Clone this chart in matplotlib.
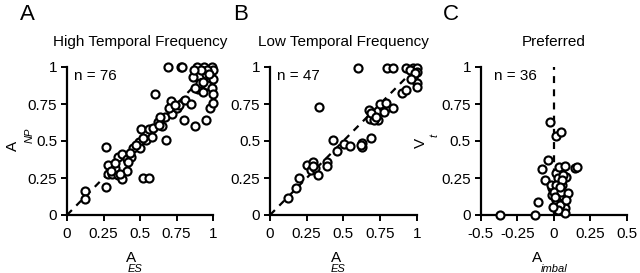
import matplotlib
matplotlib.use("Agg")
import matplotlib.pyplot as plt

plt.rcParams['font.family'] = ['Liberation Sans', 'DejaVu Sans']
plt.rcParams['lines.scale_dashes'] = False

# ---- data ----
a_es = [0.12, 0.12, 0.27, 0.27, 0.28, 0.28, 0.31, 0.33, 0.35, 0.35, 0.38, 0.41, 0.38, 0.41, 0.44,
        0.45, 0.43, 0.49, 0.50, 0.51, 0.52, 0.56, 0.54, 0.56, 0.59, 0.60, 0.62, 0.65, 0.68, 0.67,
        0.69, 0.71, 0.72, 0.72, 0.75, 0.77, 0.78, 0.79, 0.80, 0.81, 0.85, 0.86, 0.88, 0.89, 0.90,
        0.91, 0.93, 0.94, 0.95, 0.95, 0.97, 0.96, 0.98, 0.99, 1.00, 1.00, 0.99, 1.00, 1.00, 0.96,
        0.92, 0.87, 0.88, 0.93, 0.97, 0.47, 0.52, 0.64, 0.70, 0.74, 0.33, 0.30, 0.36, 0.42, 0.63,
        0.58]
a_np = [0.16, 0.11, 0.19, 0.46, 0.34, 0.28, 0.28, 0.32, 0.27, 0.39, 0.24, 0.30, 0.41, 0.38, 0.39,
        0.45, 0.42, 0.49, 0.45, 0.58, 0.25, 0.25, 0.51, 0.58, 0.59, 0.82, 0.63, 0.60, 0.51, 0.66,
        1.00, 0.77, 0.71, 0.68, 0.72, 0.74, 1.00, 1.00, 0.64, 0.78, 0.75, 0.93, 0.60, 1.00, 0.85,
        0.89, 0.83, 1.00, 0.64, 0.95, 0.90, 0.88, 0.72, 1.00, 0.98, 0.92, 0.86, 0.82, 0.76, 0.98,
        0.98, 0.98, 0.86, 0.90, 0.95, 0.47, 0.52, 0.66, 0.72, 0.74, 0.35, 0.30, 0.28, 0.36, 0.61,
        0.53]

b_es = [0.125, 0.177, 0.20, 0.255, 0.295, 0.277, 0.307, 0.325, 0.332, 0.386, 0.386, 0.427, 0.455,
        0.505, 0.545, 0.602, 0.625, 0.625, 0.686, 0.677, 0.682, 0.739, 0.768, 0.791, 0.777, 0.841,
        0.795, 0.841, 0.898, 0.927, 0.925, 0.977, 1.00, 1.00, 0.977, 1.00, 1.00, 0.955, 0.99, 0.711,
        0.62, 0.69, 0.75, 0.79, 0.96, 0.29, 0.72]
b_np = [0.117, 0.18, 0.248, 0.338, 0.36, 0.304, 0.315, 0.27, 0.727, 0.36, 0.331, 0.507, 0.435,
        0.48, 0.466, 0.995, 0.462, 0.484, 0.518, 0.709, 0.649, 0.642, 0.732, 0.721, 0.694, 0.721,
        0.995, 0.995, 0.822, 0.845, 0.995, 0.995, 0.995, 0.968, 0.923, 0.89, 0.863, 0.98, 0.957, 0.642,
        0.47, 0.69, 0.75, 0.76, 0.92, 0.33, 0.66]

c_imbal = [-0.37, -0.13, -0.107, -0.023, 0.014, 0.052, -0.039, -0.084, -0.061, -0.016, -0.016, -0.02,
           0.018, 0.036, 0.03, 0.014, 0.0, 0.018, 0.048, 0.059, 0.075, 0.086, 0.098, 0.064, 0.075,
           0.075, 0.045, 0.143, 0.155, 0.007, 0.03, 0.064, -0.009, 0.059, 0.086, 0.041]
c_vt = [0.0, 0.0, 0.086, 0.626, 0.534, 0.563, 0.372, 0.311, 0.236, 0.135, 0.18, 0.2,
        0.282, 0.322, 0.248, 0.2, 0.158, 0.101, 0.158, 0.2, 0.331, 0.259, 0.146, 0.079, 0.045,
        0.011, 0.068, 0.315, 0.327, 0.124, 0.034, 0.27, 0.056, 0.236, 0.101, 0.19]

titles = ["High Temporal Frequency", "Low Temporal Frequency", "Preferred"]
panel_letters = ["A", "B", "C"]
n_labels = ["n = 76", "n = 47", "n = 36"]
yticks = [0, 0.25, 0.5, 0.75, 1]
ytick_labels = ["0", "0.25", "0.5", "0.75", "1"]
xticks_ab = [0, 0.25, 0.5, 0.75, 1]
xtick_labels_ab = ["0", "0.25", "0.5", "0.75", "1"]
xticks_c = [-0.5, -0.25, 0, 0.25, 0.5]
xtick_labels_c = ["-0.5", "-0.25", "0", "0.25", "0.5"]

W, H = 640, 273
fig = plt.figure(figsize=(6.4, 2.73), dpi=100)

def px_axes(x0, x1, ytop, ybot):
    return fig.add_axes([x0 / W, 1 - ybot / H, (x1 - x0) / W, (ybot - ytop) / H])

axA = px_axes(67, 213, 67, 215)
axB = px_axes(270, 416.7, 67, 215)
axC = px_axes(480.7, 627, 67, 215)

FS = 11
lw = 1.6

def style(ax, xlim, xticks, xticklabels):
    ax.set_xlim(*xlim)
    ax.set_ylim(0, 1)
    for s in ['top', 'right']:
        ax.spines[s].set_visible(False)
    for s in ['left', 'bottom']:
        ax.spines[s].set_linewidth(lw)
    ax.set_xticks(xticks)
    ax.set_xticklabels(xticklabels)
    ax.set_yticks(yticks)
    ax.set_yticklabels(ytick_labels)
    ax.tick_params(direction='out', length=4, width=1.4, labelsize=FS)
    ax.tick_params(axis='x', pad=5)
    ax.tick_params(axis='y', pad=3)
    ax.patch.set_visible(False)

mk = dict(marker='o', ls='none', ms=5.8, mew=1.55, mec='black', mfc='white', clip_on=False, zorder=3)
dash = dict(color='black', lw=1.6, dashes=(5, 4.5), zorder=2, clip_on=False)

for ax, xs, ys, ttl, nl in [(axA, a_es, a_np, titles[0], n_labels[0]),
                            (axB, b_es, b_np, titles[1], n_labels[1])]:
    style(ax, (0, 1), xticks_ab, xtick_labels_ab)
    ax.plot([0, 1], [0, 1], **dash)
    ax.plot(xs, ys, **mk)
    ax.set_title(ttl, fontsize=FS, pad=15)
    ax.text(0.05, 0.985, nl, transform=ax.transAxes, ha='left', va='top', fontsize=FS)

style(axC, (-0.5, 0.5), xticks_c, xtick_labels_c)
axC.plot([0, 0], [0, 1], **dash)
axC.plot(c_imbal, c_vt, **mk)
axC.set_title(titles[2], fontsize=FS, pad=15)
axC.text(0.09, 0.985, n_labels[2], transform=axC.transAxes, ha='left', va='top', fontsize=FS)

# panel letters
for x, letter in [(20, "A"), (233, "B"), (443, "C")]:
    fig.text(x / W, 1 - 20 / H, letter, fontsize=16, ha='left', va='baseline')

# axis labels (main letter + offset subscripts)
def ftxt(x, y, s, **kw):
    fig.text(x / W, 1 - y / H, s, **kw)

ftxt(131.5, 262, "A", fontsize=FS, ha='center', va='baseline')
ftxt(135.5, 272, "ES", fontsize=8, style='italic', ha='center', va='baseline')
ftxt(336, 262, "A", fontsize=FS, ha='center', va='baseline')
ftxt(338, 272, "ES", fontsize=8, style='italic', ha='center', va='baseline')
ftxt(537.5, 262, "A", fontsize=FS, ha='center', va='baseline')
ftxt(554, 272.5, "imbal", fontsize=8, style='italic', ha='center', va='baseline')

ftxt(12.5, 145.5, "A", fontsize=FS, rotation=90, ha='center', va='center')
ftxt(30, 135, "NP", fontsize=8, style='italic', rotation=90, ha='center', va='center')
ftxt(421, 142.5, "V", fontsize=FS, rotation=90, ha='center', va='center')
ftxt(435, 135, "t", fontsize=8, style='italic', rotation=90, ha='center', va='center')

fig.savefig("out.png", dpi=100)
